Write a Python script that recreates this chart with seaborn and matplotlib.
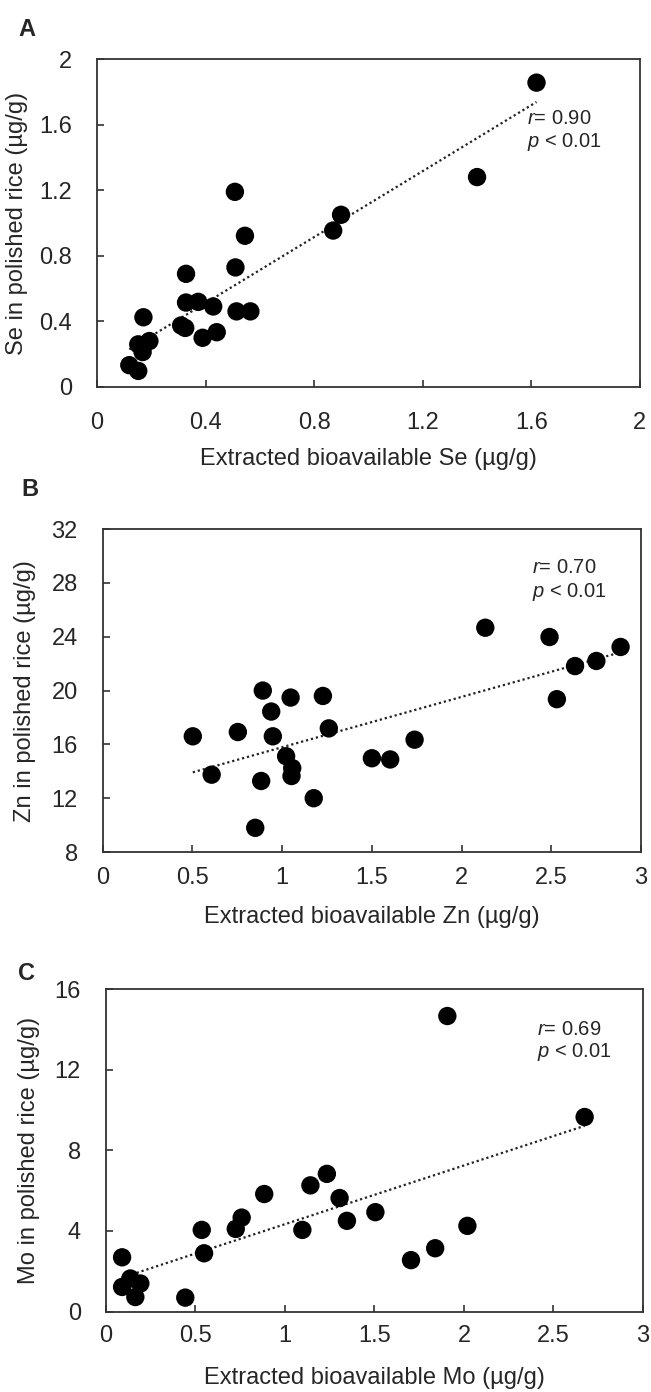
import pandas as pd
import matplotlib
matplotlib.use("Agg")
import matplotlib.pyplot as plt
from matplotlib.ticker import FuncFormatter
import seaborn as sns

# Panel A - selenium
se_x = [0.508, 0.899, 0.870, 0.545, 0.510, 0.328, 0.328, 0.373, 0.428, 0.514, 0.565,
        0.171, 0.310, 0.325, 0.441, 0.389, 0.193, 0.152, 0.168, 0.119, 0.152, 1.619, 1.400]
se_y = [1.19, 1.05, 0.954, 0.922, 0.729, 0.69, 0.515, 0.519, 0.491, 0.461, 0.461,
        0.425, 0.375, 0.36, 0.334, 0.30, 0.28, 0.26, 0.213, 0.133, 0.098, 1.856, 1.28]

# Panel B - zinc
zn_x = [0.502, 0.892, 1.047, 1.227, 0.939, 0.753, 0.948, 1.260, 0.607, 1.022, 1.056, 1.052,
        0.883, 1.176, 0.850, 1.500, 1.602, 1.738, 2.132, 2.490, 2.886, 2.751, 2.632, 2.531]
zn_y = [16.6, 20.0, 19.48, 19.6, 18.44, 16.92, 16.6, 17.19, 13.75, 15.12, 14.24, 13.65,
        13.28, 12.0, 9.8, 14.97, 14.88, 16.35, 24.67, 23.98, 23.24, 22.2, 21.82, 19.36]

# Panel C - molybdenum
mo_x = [0.09, 0.136, 0.09, 0.192, 0.164, 0.443, 0.535, 0.548, 0.725, 0.758, 0.884, 1.097,
        1.142, 1.234, 1.305, 1.346, 1.505, 1.907, 2.674, 2.019, 1.839, 1.704]
mo_y = [2.69, 1.64, 1.22, 1.39, 0.72, 0.69, 4.05, 2.89, 4.1, 4.66, 5.83, 4.05,
        6.26, 6.83, 5.63, 4.5, 4.93, 14.66, 9.65, 4.25, 3.14, 2.55]

sns.set_style("ticks")
plt.rcParams["font.family"] = ["Liberation Sans", "DejaVu Sans"]
plt.rcParams["mathtext.fontset"] = "custom"
plt.rcParams["mathtext.rm"] = "Liberation Sans"
plt.rcParams["mathtext.it"] = "Liberation Sans:italic"

panels = [
    dict(x=se_x, y=se_y, letter="A", el="Se", r="0.90",
         rect=[0.149, 0.722, 0.834, 0.2356], xlim=(0, 2), ylim=(0, 2),
         xt=[0, 0.4, 0.8, 1.2, 1.6, 2], yt=[0, 0.4, 0.8, 1.2, 1.6, 2],
         xpad=18, txt=(0.792, 0.802, 0.732), ylab=-0.127, xlab=-0.185, lett=(0.028, 0.979)),
    dict(x=zn_x, y=zn_y, letter="B", el="Zn", r="0.70",
         rect=[0.1578, 0.3879, 0.8269, 0.232], xlim=(0, 3), ylim=(8, 32),
         xt=[0, 0.5, 1, 1.5, 2, 2.5, 3], yt=[8, 12, 16, 20, 24, 28, 32],
         xpad=11, txt=(0.797, 0.864, 0.789), ylab=-0.124, xlab=-0.168, lett=(0.033, 0.648)),
    dict(x=mo_x, y=mo_y, letter="C", el="Mo", r="0.69",
         rect=[0.1628, 0.0578, 0.8249, 0.2317], xlim=(0, 3), ylim=(0, 16),
         xt=[0, 0.5, 1, 1.5, 2, 2.5, 3], yt=[0, 4, 8, 12, 16],
         xpad=10, txt=(0.802, 0.856, 0.789), ylab=-0.123, xlab=-0.172, lett=(0.027, 0.301)),
]

fig = plt.figure(figsize=(6.51, 13.92), dpi=100)
fmt = FuncFormatter(lambda v, pos: f"{v:g}")

for p in panels:
    ax = fig.add_axes(p["rect"])
    df = pd.DataFrame({"x": p["x"], "y": p["y"]})
    sns.regplot(data=df, x="x", y="y", ax=ax, ci=None,
                scatter_kws=dict(s=175, color="black", edgecolor="none", alpha=1, zorder=3),
                line_kws=dict(color="#222222", lw=1.6, linestyle=(0, (1, 1.3)), zorder=2))
    ax.set_xlim(*p["xlim"])
    ax.set_ylim(*p["ylim"])
    ax.set_xticks(p["xt"])
    ax.set_yticks(p["yt"])
    ax.xaxis.set_major_formatter(fmt)
    ax.yaxis.set_major_formatter(fmt)
    ax.tick_params(direction="in", length=5, width=1.2, labelsize=17, color="#333333")
    ax.tick_params(axis="x", pad=p["xpad"])
    ax.tick_params(axis="y", pad=18)
    for s in ax.spines.values():
        s.set_visible(True)
        s.set_linewidth(1.3)
        s.set_color("#333333")
    ax.set_xlabel(f"Extracted bioavailable {p['el']} (µg/g)", fontsize=17)
    ax.set_ylabel(f"{p['el']} in polished rice (µg/g)", fontsize=17)
    ax.yaxis.set_label_coords(p["ylab"], 0.5)
    ax.xaxis.set_label_coords(0.5, p["xlab"])
    tx, ty1, ty2 = p["txt"]
    ax.text(tx, ty1, r"$\mathit{r}$= " + p["r"], transform=ax.transAxes,
            fontsize=14.5, va="baseline", ha="left")
    ax.text(tx, ty2, r"$\mathit{p}$ < 0.01", transform=ax.transAxes,
            fontsize=14.5, va="baseline", ha="left")
    fig.text(p["lett"][0], p["lett"][1], p["letter"], fontsize=17, fontweight="bold",
             va="center")

fig.savefig("out.png", dpi=100)
